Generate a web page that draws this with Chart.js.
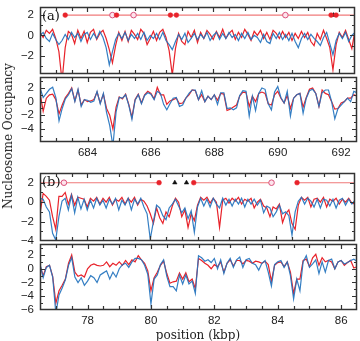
<!DOCTYPE html>
<html><head><meta charset="utf-8">
<script src="https://cdn.jsdelivr.net/npm/chart.js@4.4.0/dist/chart.umd.min.js"></script>
<style>
html,body{margin:0;padding:0;background:#fff;}
#wrap{position:relative;width:360px;height:341px;overflow:hidden;background:#fff;}
canvas{position:absolute;left:0;}
.ytitle{position:absolute;font-family:'DejaVu Serif';font-size:12px;color:#222;white-space:nowrap;left:8px;top:136px;transform:translate(-50%,-50%) rotate(-90deg);}
.xtitle{position:absolute;font-family:'DejaVu Serif';font-size:12px;color:#222;white-space:nowrap;left:198px;top:335px;transform:translate(-50%,-50%);}
</style></head>
<body><div id="wrap">
<canvas id="p1" width="360" height="80" style="top:0px"></canvas>
<canvas id="p2" width="360" height="92" style="top:70px"></canvas>
<canvas id="p3" width="360" height="80" style="top:166px"></canvas>
<canvas id="p4" width="360" height="104" style="top:237px"></canvas>
<div class="ytitle">Nucleosome Occupancy</div>
<div class="xtitle">position (kbp)</div>
</div>
<script>
// positions (kbp)
const posA = [682.5,682.6,682.7,682.8,682.9,683.0,683.1,683.2,683.3,683.4,
683.5,683.6,683.7,683.8,683.9,684.0,684.1,684.2,684.3,684.4,
684.5,684.6,684.7,684.8,684.9,685.0,685.1,685.2,685.3,685.4,
685.5,685.6,685.7,685.8,685.9,686.0,686.1,686.2,686.3,686.4,
686.5,686.6,686.7,686.8,686.9,687.0,687.1,687.2,687.3,687.4,
687.5,687.6,687.7,687.8,687.9,688.0,688.1,688.2,688.3,688.4,
688.5,688.6,688.7,688.8,688.9,689.0,689.1,689.2,689.3,689.4,
689.5,689.6,689.7,689.8,689.9,690.0,690.1,690.2,690.3,690.4,
690.5,690.6,690.7,690.8,690.9,691.0,691.1,691.2,691.3,691.4,
691.5,691.6,691.7,691.8,691.9,692.0,692.1,692.2,692.3,692.4,692.5];
const posB = [76.5,76.6,76.7,76.8,76.9,77.0,77.1,77.2,77.3,77.4,
77.5,77.6,77.7,77.8,77.9,78.0,78.1,78.2,78.3,78.4,
78.5,78.6,78.7,78.8,78.9,79.0,79.1,79.2,79.3,79.4,
79.5,79.6,79.7,79.8,79.9,80.0,80.1,80.2,80.3,80.4,
80.5,80.6,80.7,80.8,80.9,81.0,81.1,81.2,81.3,81.4,
81.5,81.6,81.7,81.8,81.9,82.0,82.1,82.2,82.3,82.4,
82.5,82.6,82.7,82.8,82.9,83.0,83.1,83.2,83.3,83.4,
83.5,83.6,83.7,83.8,83.9,84.0,84.1,84.2,84.3,84.4,
84.5,84.6,84.7,84.8,84.9,85.0,85.1,85.2,85.3,85.4,
85.5,85.6,85.7,85.8,85.9,86.0,86.1,86.2,86.3,86.4,86.5];

// panel (a) upper
const redA1 = [0.3,-0.2,0.5,0.2,0.6,-0.3,-1.6,-4.5,-1.2,0.4,
0.1,-0.8,0.5,-0.3,0.4,-0.7,0.3,0.6,-0.4,0.2,
0.5,-0.3,-1.4,-2.7,-1.0,0.3,-0.5,0.4,-0.6,0.5,
0.1,-0.4,0.6,0.2,-0.9,-0.3,0.4,-0.5,0.3,0.6,
-0.2,-1.5,-3.9,-1.3,0.2,-0.6,-0.9,0.4,-0.2,0.5,
-0.7,0.3,-0.3,0.5,0.1,-0.4,0.4,-0.2,0.6,-0.3,
0.2,0.5,-0.4,0.3,-0.2,0.6,0.1,-0.5,0.4,0.0,
0.5,-0.3,0.3,-0.4,0.5,0.2,-0.3,0.4,-0.2,0.3,
-0.5,0.2,-0.3,0.4,-0.2,0.3,-0.6,-1.0,0.2,-0.4,
0.5,-0.3,-1.2,-3.4,-0.9,0.3,-0.2,0.5,-0.4,-1.3,0.5];
const blueA1 = [0.0,0.3,-0.3,-0.6,0.2,-0.4,-0.9,-0.5,0.1,-0.4,
0.3,-0.2,0.2,-0.6,0.1,0.3,-0.4,0.2,-0.3,0.4,
-0.2,-1.2,-2.9,-1.6,-0.4,0.2,-0.3,0.3,-0.5,0.1,
-0.3,0.2,-0.4,0.3,-0.5,0.0,-0.3,0.2,-0.4,0.3,
-0.5,-0.9,-1.4,-0.6,0.1,-0.4,0.2,-0.7,-0.3,0.2,
-0.4,0.1,-0.3,0.3,-0.5,0.0,0.3,-0.4,0.2,-0.3,
0.3,-0.2,0.1,-0.5,0.2,-0.3,0.3,-0.4,0.0,-0.2,
-0.7,0.1,-0.6,-0.8,0.2,-0.3,0.3,-0.4,0.1,-0.5,
0.2,-0.6,-1.2,-0.3,0.2,-0.4,0.1,-0.3,-0.6,-1.0,
-0.2,0.3,-0.8,-1.9,-0.5,0.2,-0.3,0.3,-0.6,0.0,0.3];
// panel (a) lower
const redA2 = [1.3,-1.4,0.5,1.0,1.1,0.3,-1.8,-0.5,0.6,1.2,
2.0,0.1,1.7,-0.5,0.3,0.0,0.1,0.3,1.4,-0.2,
1.1,-1.0,-2.0,-4.0,-0.8,0.7,0.4,1.1,-0.4,-2.3,
0.3,1.1,-0.2,1.0,1.5,1.2,0.4,2.1,1.0,1.0,
-0.4,0.1,0.3,0.5,-0.3,-0.2,0.5,1.0,1.7,1.6,
0.3,1.0,0.0,0.8,0.3,1.0,0.2,1.2,1.1,-1.3,
-1.1,-0.8,-0.5,0.8,1.4,1.3,-0.7,0.8,0.0,1.2,
1.4,1.2,-0.3,-0.5,1.0,1.5,0.5,-0.2,0.9,-1.0,
0.5,1.0,1.2,-0.8,0.6,1.8,2.0,1.2,-0.7,1.7,
1.2,1.0,0.0,-1.1,-1.0,-0.2,0.0,0.5,0.5,1.0,0.8];
const blueA2 = [2.0,0.6,1.2,1.8,2.1,0.6,-2.8,-1.0,0.4,1.0,
1.9,0.0,1.8,-0.7,0.3,0.2,-0.1,0.1,1.5,-0.3,
1.2,-1.6,-3.5,-6.5,-1.5,0.6,0.5,1.0,-0.5,-2.6,
0.2,1.0,-0.3,0.9,1.3,1.1,0.3,1.5,1.2,-0.4,
-1.2,-0.3,0.5,0.6,-0.7,-0.5,0.5,1.2,1.7,1.7,
0.3,1.6,0.0,0.8,0.3,1.0,-0.4,1.3,1.3,-1.0,
-0.9,-1.2,-0.9,0.9,1.6,1.5,-2.1,0.8,-1.3,1.2,
2.0,1.8,-0.3,-1.2,1.4,2.2,0.6,-0.2,1.5,-2.1,
0.5,1.0,1.2,-1.7,0.5,1.6,1.8,1.2,-0.7,1.3,
1.7,1.7,0.0,-2.5,-1.0,-0.5,0.0,0.5,0.0,1.5,1.3];
// panel (b) upper
const redB1 = [-1.2,0.9,0.6,0.2,-1.5,-2.8,0.6,0.6,1.0,-0.2,
0.8,-0.3,0.5,0.4,0.3,-0.5,0.4,0.1,0.5,-0.2,
0.4,0.0,0.5,-0.3,0.3,0.1,0.5,-0.2,0.4,0.0,
0.5,-0.3,0.3,0.1,-0.4,-1.2,-2.2,-0.6,-1.6,-2.2,
-1.0,-1.5,-0.4,0.4,0.0,-1.5,-0.8,-2.6,-1.2,-1.9,
-0.3,0.5,0.2,0.5,-0.1,0.4,0.0,-2.6,0.2,0.4,
-0.1,0.4,0.1,0.5,-0.2,0.3,0.1,0.4,-0.6,0.0,
0.3,-0.4,-0.6,-1.5,-0.5,-0.7,-0.2,-2.1,-1.2,-0.8,
-2.2,-2.8,-0.3,0.5,0.2,0.5,-0.5,0.3,0.4,0.0,
0.5,-0.5,0.3,0.1,0.4,-0.2,0.3,0.0,0.4,-0.1,-0.2];
const blueB1 = [0.4,0.3,-0.5,-1.0,-3.2,-3.9,-1.5,0.1,0.4,-0.8,
0.7,-1.1,0.5,-0.7,0.3,-0.8,0.2,-0.6,0.4,-0.3,
0.2,-0.6,0.3,-0.2,0.4,-0.8,0.2,-0.3,0.4,-0.8,
0.3,-0.2,0.4,-0.5,-1.2,-3.8,-2.0,-0.3,-0.6,-1.4,
-1.8,-0.6,-0.2,0.3,-0.4,-1.1,-0.6,-1.7,-0.9,-3.1,
-0.5,0.4,-0.4,0.3,-0.5,0.4,-0.2,-0.6,0.4,-0.3,
0.3,-0.4,0.3,-0.2,0.4,-0.5,0.3,-0.2,0.3,-0.3,
0.2,-1.1,-0.4,-0.6,-1.5,-1.0,-0.3,-1.2,-1.0,-1.4,
-3.4,-1.0,0.1,0.5,-0.2,0.4,0.1,-0.5,0.3,-0.6,
0.3,0.2,-0.4,0.3,-0.6,0.2,0.4,-0.3,0.3,-0.2,0.2];
// panel (b) lower
const redB2 = [0.5,-1.0,0.3,0.5,-1.1,-5.0,-3.2,-2.4,-1.5,0.8,
2.0,-0.5,-1.1,-0.9,-1.2,0.0,0.5,0.7,0.5,0.4,
0.5,1.0,0.3,0.8,0.5,1.0,0.5,1.2,0.6,1.3,
1.0,1.9,1.3,0.8,-0.3,-3.2,-1.3,-0.5,0.5,1.1,
-0.7,-2.1,-1.9,-1.8,-0.6,-1.5,-0.6,-1.9,-1.5,-2.9,
1.5,1.2,0.8,0.5,0.0,0.6,0.3,1.0,-0.5,0.8,
1.3,0.4,1.2,1.2,0.7,1.2,1.1,0.8,1.1,1.0,
0.8,1.1,0.6,-1.8,0.5,0.9,1.0,0.3,1.0,-0.5,
-3.6,-1.5,-1.5,1.2,1.4,0.3,1.6,2.1,0.5,1.6,
1.0,1.2,1.0,0.0,1.0,1.2,0.5,0.9,1.2,0.1,0.3];
const blueB2 = [0.7,-1.3,0.2,0.5,-1.2,-6.5,-3.8,-2.8,-1.6,0.5,
1.6,-1.2,-2.0,-1.3,-2.4,-1.8,-1.0,-1.3,-2.0,-0.9,
-0.6,-0.3,-1.5,-0.5,-1.2,0.0,0.6,0.8,0.2,1.0,
1.5,1.5,1.3,0.5,-0.8,-5.1,-1.5,-0.9,0.6,1.3,
-1.1,-2.6,-2.6,-3.2,-0.9,-2.2,-0.9,-2.2,-1.8,-3.6,
1.9,1.6,1.1,1.3,0.9,1.5,0.0,1.3,-0.7,0.8,
1.5,0.2,1.3,1.7,0.2,1.3,1.5,0.8,0.6,-0.2,
0.8,1.2,-0.5,-2.5,0.6,1.0,1.2,0.2,1.0,-1.0,
-4.4,-1.5,-3.2,1.0,1.9,0.2,0.7,1.3,-0.7,1.0,
-0.5,1.2,1.4,0.0,1.0,1.2,0.7,0.9,1.2,1.4,1.1];

// marker tracks (positions in kbp) drawn at level 2
const trackLevel = 2;
const segStartA = [683.30], segEndA = [692.5];
const filledA = [683.30,684.93,686.64,686.83,691.74,691.90];
const hollowA = [684.80,685.47,690.29];
const triA = [691.82];
const segStartB = [76.5,81.38,84.66], segEndB = [80.28,83.85,86.5];
const filledB = [80.28,81.38,84.66];
const hollowB = [77.26,83.85];
const triB = [80.78,81.15];

const RED = '#e8232b', BLUE = 'rgba(35,115,190,0.92)', TRACK = '#f07a7a';

function fmt(v){ return v < 0 ? '\u2212' + Math.abs(v) : String(v); }

const framePlugin = {
  id: 'frame',
  afterDraw(chart, args, opts) {
    const ctx = chart.ctx, a = chart.chartArea;
    const xs = chart.scales.x, ys = chart.scales.y;
    const L = a.left, R = a.right, T = a.top, B = a.bottom;
    ctx.save();
    ctx.setLineDash([]);
    ctx.lineWidth = 1.5;
    ctx.strokeStyle = '#333333';
    ctx.strokeRect(L + 0.5, T + 0.5, R - L - 1, B - T - 1);
    ctx.lineWidth = 1.2;
    ctx.beginPath();
    (xs.ticks || []).forEach(t => {
      const v = t.value;
      if (v <= xs.min + 1e-6 || v >= xs.max - 1e-6) return;
      const px = Math.round(xs.getPixelForValue(v)) + 0.5;
      const len = (Math.abs(v % 2) < 1e-6) ? 5 : 4;
      ctx.moveTo(px, B); ctx.lineTo(px, B - len);
      ctx.moveTo(px, T); ctx.lineTo(px, T + len);
    });
    (ys.ticks || []).forEach(t => {
      const v = t.value;
      if (v <= ys.min + 1e-6 || v >= ys.max - 1e-6) return;
      const py = Math.round(ys.getPixelForValue(v)) + 0.5;
      const len = (Math.abs(v % 2) < 1e-6) ? 5 : 3;
      ctx.moveTo(L, py); ctx.lineTo(L + len, py);
      ctx.moveTo(R, py); ctx.lineTo(R - len, py);
    });
    ctx.stroke();
    if (opts && opts.label) {
      ctx.fillStyle = '#111';
      ctx.font = '13px "DejaVu Serif"';
      ctx.textBaseline = 'middle';
      ctx.textAlign = 'left';
      ctx.fillText(opts.label, L + 2, T + 10);
    }
    ctx.restore();
  }
};

function pts(xs, ys){ return xs.map((x,i)=>({x:x, y:ys[i]})); }
function level(xs){ return xs.map(x=>({x:x, y:trackLevel})); }
function segs(st, en){ const d=[]; st.forEach((s,i)=>{ d.push({x:s,y:trackLevel}); d.push({x:en[i],y:trackLevel}); d.push({x:en[i],y:null}); }); return d; }

function makePanel(id, pos, red, blue, yMin, yMax, xMin, xMax, showX, pad, label, track) {
  const datasets = [];
  if (track) {
    datasets.push({data: level(track.filled), showLine:false, pointRadius:2.4, pointBackgroundColor:RED, pointBorderColor:RED, pointBorderWidth:0.5, order:0});
    datasets.push({data: level(track.hollow), showLine:false, pointRadius:2.8, pointBackgroundColor:'#fde4ec', pointBorderColor:'#d9507a', pointBorderWidth:1, order:0});
    datasets.push({data: level(track.tri), showLine:false, pointStyle:'triangle', pointRadius:2.6, pointBackgroundColor:'#111', pointBorderColor:'#111', pointBorderWidth:0.5, order:0});
    datasets.push({data: segs(track.st, track.en), borderColor:TRACK, borderWidth:1.1, pointRadius:0, spanGaps:false, order:1});
  }
  datasets.push({data: pts(pos, blue), borderColor:BLUE, borderWidth:1.2, pointRadius:0, order:2});
  datasets.push({data: pts(pos, red), borderColor:RED, borderWidth:1.2, pointRadius:0, order:3});
  return new Chart(document.getElementById(id), {
    type:'line',
    data:{datasets},
    plugins:[framePlugin],
    options:{
      responsive:false, animation:false, events:[],
      layout:{padding:pad},
      plugins:{legend:{display:false}, tooltip:{enabled:false}, frame:{label}},
      elements:{line:{tension:0}},
      scales:{
        x:{type:'linear', min:xMin, max:xMax, display:showX,
           grid:{display:false, drawTicks:false}, border:{display:false},
           ticks:{stepSize:0.5, includeBounds:false, autoSkip:false, maxRotation:0, padding:4,
                  color:'#222', font:{family:'Liberation Sans', size:11.5},
                  callback:(v)=> (Math.abs(v % 2) < 1e-6) ? String(Math.round(v)) : ''},
           afterFit:(s)=>{ if (showX) s.height = 20; else s.height = 0; s.paddingLeft = 0; s.paddingRight = 0; }},
        y:{type:'linear', min:yMin, max:yMax,
           grid:{display:false, drawTicks:false}, border:{display:false},
           ticks:{stepSize:1, includeBounds:false, autoSkip:false, padding:6,
                  color:'#222', font:{family:'Liberation Sans', size:11.5},
                  callback:(v)=> (Math.abs(v % 2) < 1e-6) ? fmt(Math.round(v)) : ''},
           afterFit:(s)=>{ s.width = 40; s.paddingTop = 0; s.paddingBottom = 0; }}
      }
    }
  });
}

makePanel('p1', posA, redA1, blueA1, -3.8, 2.8, 682.5, 692.5, false, {top:7,bottom:6,left:0,right:3}, '(a)',
  {filled:filledA, hollow:hollowA, tri:triA, st:segStartA, en:segEndA});
makePanel('p2', posA, redA2, blueA2, -5.9, 3.6, 682.5, 692.5, true, {top:7,bottom:0,left:0,right:3}, null, null);
makePanel('p3', posB, redB1, blueB1, -4.0, 3.0, 76.5, 86.5, false, {top:7,bottom:5,left:0,right:3}, '(b)',
  {filled:filledB, hollow:hollowB, tri:triB, st:segStartB, en:segEndB});
makePanel('p4', posB, redB2, blueB2, -6.0, 3.6, 76.5, 86.5, true, {top:7,bottom:11,left:0,right:3}, null, null);
</script>
</body></html>
